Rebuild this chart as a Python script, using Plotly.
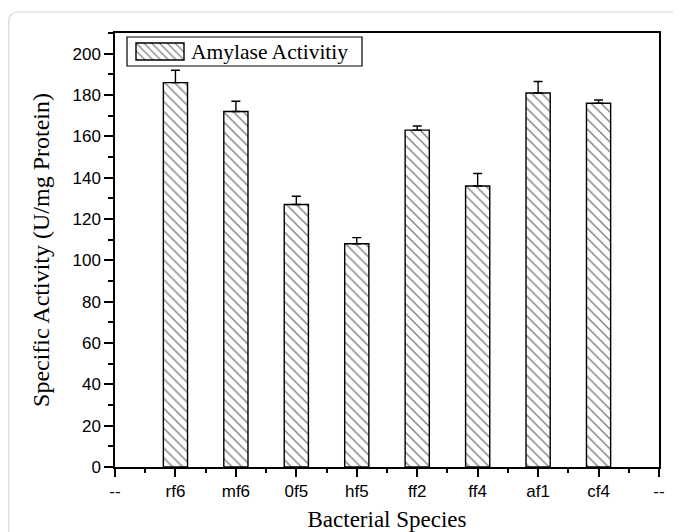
import plotly.graph_objects as go

categories = ["rf6", "mf6", "0f5", "hf5", "ff2", "ff4", "af1", "cf4"]
activity = [186, 172, 127, 108, 163, 136, 181, 176]
errors = [6, 5, 4, 3, 2, 6, 5.5, 1.6]
tick_labels = ["--"] + categories + ["--"]
series_name = "Amylase Activitiy"

xpos = list(range(1, len(categories) + 1))

# page is offset by the 8px body margin
OFF = 8
W, H = 681 - OFF, 532 - OFF
L, R, T, B = 107, 22, 25, 65
pw, ph = W - L - R, H - T - B

def px(x):  # page pixel -> paper
    return (x - OFF - L) / pw

def py(y):
    return (H - B - (y - OFF)) / ph

hatch = dict(color="white", line=dict(color="black", width=1.4))

fig = go.Figure()
fig.add_trace(go.Bar(
    x=xpos, y=activity, width=0.4, name=series_name, showlegend=False,
    marker=dict(**hatch, pattern=dict(shape="\\", fgcolor="black", bgcolor="white",
                                      size=7, solidity=0.2)),
    error_y=dict(type="data", symmetric=False, array=errors,
                 arrayminus=[0] * len(errors), color="black",
                 thickness=1.4, width=4.5),
))

# legend (custom, wide hatched swatch)
sx0, sx1, sy0, sy1 = 136, 184, 43, 60
pad = 2
fig.add_shape(type="rect", xref="paper", yref="paper",
              x0=px(127), x1=px(362), y0=py(66), y1=py(37),
              line=dict(color="black", width=1.2), fillcolor="white", layer="below")
fig.add_trace(go.Bar(
    x=[1], y=[0], base=[0], orientation="h", width=1, showlegend=False,
    xaxis="x2", yaxis="y2", hoverinfo="skip",
    marker=dict(**hatch, pattern=dict(shape="\\", fgcolor="black", bgcolor="white",
                                      size=5.5, solidity=0.22)),
))
fig.add_annotation(xref="paper", yref="paper", x=px(189), y=py(52),
                   xanchor="left", yanchor="middle", showarrow=False,
                   text=series_name,
                   font=dict(family="Liberation Serif", size=21.5, color="black"))

# card border
x0, y0 = px(OFF + 0.7), py(12)
x1, y1 = px(700), py(560)
r = 10
rx, ry = r / pw, r / ph
fig.add_shape(type="path", xref="paper", yref="paper",
              path=f"M {x0},{y1} L {x0},{y0 - ry} Q {x0},{y0} {x0 + rx},{y0} L {x1},{y0}",
              line=dict(color="#d9d9d9", width=1.2), layer="below")

fig.update_layout(
    width=W, height=H,
    margin=dict(l=L, r=R, t=T, b=B),
    paper_bgcolor="white", plot_bgcolor="rgba(0,0,0,0)",
    showlegend=False,
    font=dict(family="Liberation Sans", color="black"),
    xaxis=dict(
        range=[0, 9], tickmode="array", tickvals=list(range(10)), ticktext=tick_labels,
        showline=True, linecolor="black", linewidth=1.5, mirror=True,
        ticks="outside", ticklen=8, tickwidth=1.5, tickcolor="black",
        minor=dict(tickvals=[i + 0.5 for i in range(9)], ticks="outside", ticklen=4,
                   tickwidth=1.5, tickcolor="black"),
        showgrid=False, zeroline=False, automargin=False,
        tickfont=dict(family="Liberation Sans", size=17, color="black"),
        title=dict(text="Bacterial Species", standoff=11,
                   font=dict(family="Liberation Serif", size=23, color="black")),
    ),
    yaxis=dict(
        range=[0, 210], tickmode="linear", tick0=0, dtick=20,
        showline=True, linecolor="black", linewidth=1.5, mirror=True,
        ticks="outside", ticklen=9, tickwidth=1.5, tickcolor="black",
        minor=dict(dtick=10, ticks="outside", ticklen=5, tickwidth=1.5, tickcolor="black"),
        showgrid=False, zeroline=False, automargin=False,
        tickfont=dict(family="Liberation Sans", size=17, color="black"),
        title=dict(text="Specific Activity (U/mg Protein)", standoff=16,
                   font=dict(family="Liberation Serif", size=24, color="black")),
    ),
    xaxis2=dict(domain=[px(sx0 - pad), px(sx1 + pad)], anchor="y2",
                range=[-pad / (sx1 - sx0), 1 + pad / (sx1 - sx0)],
                visible=False, fixedrange=True),
    yaxis2=dict(domain=[py(sy1 + pad), py(sy0 - pad)], anchor="x2",
                range=[-0.5 - pad / (sy1 - sy0), 0.5 + pad / (sy1 - sy0)],
                visible=False, fixedrange=True),
)

fig.write_html("out.html")
